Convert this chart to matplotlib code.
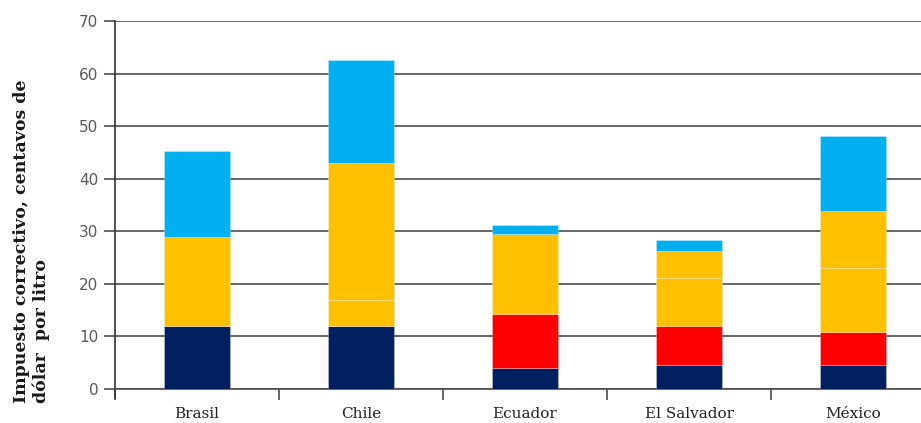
import numpy as np
import matplotlib.pyplot as plt

paises = ["Brasil", "Chile", "Ecuador", "El Salvador", "México"]
azul_oscuro = [11.9, 12.0, 3.9, 4.6, 4.6]
rojo = [0.0, 0.0, 10.4, 7.4, 6.3]
naranja_1 = [17.1, 4.9, 15.2, 9.2, 12.1]
naranja_2 = [0.0, 26.1, 0.0, 5.1, 10.9]
celeste = [16.3, 19.6, 1.7, 2.0, 14.2]

series = [
    (azul_oscuro, "#002060"),
    (rojo, "#FF0000"),
    (naranja_1, "#FFC000"),
    (naranja_2, "#FFC000"),
    (celeste, "#00B0F0"),
]

fig = plt.figure(figsize=(9.21, 4.23), dpi=100)
ax = fig.add_axes([115 / 921, 34 / 423, 820 / 921, 368 / 423])

x = np.arange(len(paises))
base = np.zeros(len(paises))
for vals, col in series:
    vals = np.array(vals)
    ax.bar(x, vals, 0.4, bottom=base, color=col, edgecolor=(1, 1, 1, 0.3),
           linewidth=0.6, zorder=3)
    base = base + vals

ax.set_xlim(-0.5, 4.5)
ax.set_ylim(0, 70)
ax.set_yticks(range(0, 71, 10))
ax.yaxis.grid(True, color="#4d4d4d", linewidth=1.2, zorder=0)
ax.set_axisbelow(True)

ax.set_xticks(np.arange(-0.5, 5, 1))
ax.set_xticklabels([])
ax.set_xticks(x, minor=True)
ax.set_xticklabels(paises, minor=True, family="DejaVu Serif", fontsize=11,
                   color="#222222")
ax.tick_params(axis="x", which="major", length=8, width=1.2, color="#4d4d4d")
ax.tick_params(axis="x", which="minor", length=0, pad=13)
ax.tick_params(axis="y", length=8, width=1.2, color="#4d4d4d",
               labelsize=11, labelcolor="#595959", pad=4)

for s in ["top", "right"]:
    ax.spines[s].set_visible(False)
ax.spines["left"].set_color("#333333")
ax.spines["left"].set_linewidth(1.2)
ax.spines["left"].set_bounds(-1.7, 70)
ax.spines["bottom"].set_color("#4d4d4d")
ax.spines["bottom"].set_linewidth(1.2)

fig.text(0.034, 20 / 423, "Impuesto correctivo, centavos de\ndólar  por litro",
         rotation=90, ha="center", va="bottom", multialignment="left",
         family="DejaVu Serif", fontweight="bold", fontsize=12.5, color="#1a1a1a")

fig.savefig("out.png", dpi=100)
